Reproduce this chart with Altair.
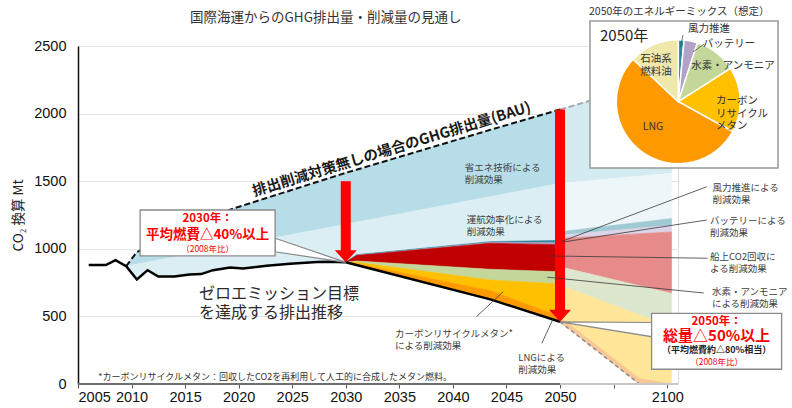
import altair as alt
import pandas as pd

FONT_JP = "Noto Sans CJK JP"
FONT_NUM = "Liberation Sans"

# ---------------- emissions (Mt CO2e) ----------------
# historical emissions and the zero-emission pathway
path_years = [2006, 2007.6, 2008.5, 2009.5, 2010.5, 2011.5, 2012.5, 2014, 2015.4, 2016.5,
              2017.6, 2019.2, 2020.4, 2022.6, 2024.8, 2027.3, 2028.5, 2030, 2031, 2043.5, 2050]
path_vals = [880, 880, 916, 872, 773, 842, 795, 795, 810, 813,
             842, 862, 855, 874, 890, 903, 905, 900, 880, 626, 460]

# business-as-usual line and the split between the two light-blue wedges
bau_years = path_years[3:]
bau_vals = [872, 976, 1013, 1049, 1103, 1154, 1194, 1234, 1290, 1320,
            1376, 1431, 1494, 1524, 1562, 1585, 1880, 2030]
eff_top_vals = [872, 887, 902, 917, 940, 961, 978, 994, 1018, 1037,
                1070, 1103, 1141, 1159, 1182, 1197, 1386, 1484]

# 2030-2050 reduction wedges (upper edge of each band)
wedge_years = [2030, 2031, 2043.5, 2050]
wind_top = [900, 956, 1053, 1062]
battery_top = [900, 953, 1047, 1045]
ccs_top = [900, 950, 1041, 1030]
h2_top = [900, 910, 848, 830]
crm_top = [900, 900, 769, 740]
lng_top = [900, 890, 690, 500]

# outlook beyond 2050
fade_years = [2050, 2102]
fade_bau = [2030, 2270]
fade_eff_top = [1484, 1559]
fade_wind_top = [1126, 1224]
fade_battery_top = [1100, 1174]
fade_ccs_top = [1077, 1125]
fade_h2_top = [867, 670]
fade3_years = [2050, 2087, 2102]
fade3_crm_top = [732, 510, 420]
fade3_lng_top = [495, 40, 0]
fade3_path = [460, 0, 0]

# targets marked with arrows
arrow_years = [2030, 2050]
arrow_from = [1500, 2030]
arrow_to = [900, 460]

# 2050 energy mix (%)
pie_labels = ["風力推進", "バッテリー", "水素・アンモニア", "カーボンリサイクルメタン", "LNG", "石油系燃料油"]
pie_shares = [1.5, 3.5, 11, 17, 54, 13]

# ---------------- styling ----------------
band_ids = ["省エネ技術", "運航効率化", "風力推進", "バッテリー", "船上CO2回収",
            "水素・アンモニア", "カーボンリサイクルメタン", "LNG"]
band_fill = ["#B7DEE8", "#DAEEF3", "#31859C", "#B3A2C7", "#C00000", "#C4D79B", "#FFC000", "#FF9900"]
fade_fill = ["#D4EBF2", "#EDF6F9", "#9FC9D3", "#DCD4E8", "#E68A8A", "#DDE7CD", "#FFE699", "#F9C796"]
pie_colors = ["#31859C", "#B3A2C7", "#C4D79B", "#FFC000", "#FF9900", "#EEE8AA"]

W, H = 600, 338
x_scale = alt.Scale(domain=[2005, 2050, 2105], range=[0, 482, W], nice=False, zero=False)
y_scale = alt.Scale(domain=[0, 2500], nice=False, zero=False)

x_axis = alt.Axis(values=[2005, 2010, 2015, 2020, 2025, 2030, 2035, 2040, 2045, 2050, 2075, 2100],
                  labelExpr="datum.value == 2075 ? '' : datum.label", format="d",
                  domain=False, grid=False, ticks=True, tickSize=4, tickColor="#555",
                  labelFont=FONT_NUM, labelFontSize=14.5, labelColor="#111", labelPadding=2,
                  title=None)
y_axis = alt.Axis(values=[0, 500, 1000, 1500, 2000, 2500], format="d", grid=True,
                  gridColor="#E4E4E4", domain=True, domainColor="#111", domainWidth=1.5,
                  ticks=False, labelFont=FONT_NUM, labelFontSize=14.5, labelColor="#111",
                  labelPadding=12, title="CO₂ 換算 Mt", titleFont=FONT_JP, titleFontSize=13.5,
                  titleFontWeight="normal", titleColor="#222", titlePadding=8)


def X(field="year"):
    return alt.X(f"{field}:Q", scale=x_scale, axis=x_axis)


def Y(field="value"):
    return alt.Y(f"{field}:Q", scale=y_scale, axis=y_axis)


# ---------------- band table ----------------
rows = []


def add_band(name, years, lo, hi):
    for yr, a, b in zip(years, lo, hi):
        rows.append({"band": name, "year": yr, "lo": a, "hi": b})


path_at = dict(zip(path_years, path_vals))
eff_low = [path_at[y] if y <= 2030 else wind_top[wedge_years.index(y)] for y in bau_years]
add_band("省エネ技術", bau_years, eff_top_vals, bau_vals)
add_band("運航効率化", bau_years, eff_low, eff_top_vals)
add_band("風力推進", wedge_years, battery_top, wind_top)
add_band("バッテリー", wedge_years, ccs_top, battery_top)
add_band("船上CO2回収", wedge_years, h2_top, ccs_top)
add_band("水素・アンモニア", wedge_years, crm_top, h2_top)
add_band("カーボンリサイクルメタン", wedge_years, lng_top, crm_top)
add_band("LNG", wedge_years, [path_at[y] for y in wedge_years], lng_top)

fade_ids = [b + "（2050年以降）" for b in band_ids]
add_band(fade_ids[0], fade_years, fade_eff_top, fade_bau)
add_band(fade_ids[1], fade_years, fade_wind_top, fade_eff_top)
add_band(fade_ids[2], fade_years, fade_battery_top, fade_wind_top)
add_band(fade_ids[3], fade_years, fade_ccs_top, fade_battery_top)
add_band(fade_ids[4], fade_years, fade_h2_top, fade_ccs_top)
add_band(fade_ids[5], fade_years, [fade3_crm_top[0], fade3_crm_top[-1]], fade_h2_top)
add_band(fade_ids[6], fade3_years, fade3_lng_top, fade3_crm_top)
add_band(fade_ids[7], fade3_years, fade3_path, fade3_lng_top)
bands_df = pd.DataFrame(rows)

all_ids = band_ids + fade_ids
all_fill = band_fill + fade_fill

bands = alt.Chart(bands_df).mark_area(strokeWidth=0.6).encode(
    x=X(),
    y=Y("hi"),
    y2="lo:Q",
    color=alt.Color("band:N", scale=alt.Scale(domain=all_ids, range=all_fill), legend=None),
    stroke=alt.Stroke("band:N", scale=alt.Scale(domain=all_ids, range=all_fill), legend=None),
)

# ---------------- lines ----------------
pathway = alt.Chart(pd.DataFrame({"year": path_years, "value": path_vals})).mark_line(
    color="#000", strokeWidth=2.5).encode(x=X(), y=Y())
pathway_after = alt.Chart(pd.DataFrame({"year": fade3_years[:2], "value": fade3_path[:2]})).mark_line(
    color="#8C8C8C", strokeWidth=1.5, strokeDash=[4, 3]).encode(x=X(), y=Y())
bau_line = alt.Chart(pd.DataFrame({"year": bau_years, "value": bau_vals})).mark_line(
    color="#111", strokeWidth=2, strokeDash=[6, 3]).encode(x=X(), y=Y())
bau_after = alt.Chart(pd.DataFrame({"year": fade_years, "value": fade_bau})).mark_line(
    color="#A8A8A8", strokeWidth=2, strokeDash=[6, 3]).encode(x=X(), y=Y())

axis_dark = alt.Chart(pd.DataFrame({"year": [2005], "year2": [2050], "value": [0]})).mark_rule(
    color="#6E6E6E", strokeWidth=2).encode(x=X(), x2="year2:Q", y=Y())
axis_light = alt.Chart(pd.DataFrame({"year": [2050], "year2": [2105], "value": [0]})).mark_rule(
    color="#C8C8C8", strokeWidth=2).encode(x=X(), x2="year2:Q", y=Y())

# ---------------- callout boxes ----------------
callouts = pd.DataFrame({
    "box": ["2030", "2030", "2050", "2050"],
    "year": [2023.4, 2030, 2050, 2092.7],
    "lo": [978, 900, 460, 350],
    "hi": [1078, 900, 460, 455],
})
wedges = alt.Chart(callouts).mark_area(fill="white", stroke="#8A8A8A", strokeWidth=1.2).encode(
    x=X(), y=Y("hi"), y2="lo:Q", detail="box:N")
boxes_df = pd.DataFrame({"year": [2010.8, 2092.7], "year2": [2023.4, 2153.3],
                         "value": [1287, 523], "value2": [947, 109]})
boxes = alt.Chart(boxes_df).mark_rect(fill="white", stroke="#8A8A8A", strokeWidth=1.3).encode(
    x=X(), x2="year2:Q", y=Y(), y2="value2:Q")

# ---------------- arrows ----------------
arrows_df = pd.DataFrame({"year": arrow_years, "value": arrow_from, "tip": arrow_to})
arrow_shaft = alt.Chart(arrows_df).mark_rule(color="#FF0000", strokeWidth=10, y2Offset=-11,
                                             strokeCap="butt").encode(x=X(), y=Y(), y2="tip:Q")
arrow_head = alt.Chart(arrows_df).mark_point(shape="M-1,-1.1L1,-1.1L0,0Z", size=484, filled=True,
                                             color="#FF0000", opacity=1, strokeWidth=0).encode(
    x=X(), y=Y("tip"))


# ---------------- text ----------------
def text_layer(texts, years, values, **kw):
    df = pd.DataFrame({"label": texts, "year": years, "value": values})
    return alt.Chart(df).mark_text(lineBreak="\n", **kw).encode(x=X(), y=Y(), text="label:N")


effect_labels = text_layer(
    ["省エネ技術による\n削減効果", "運航効率化による\n削減効果", "風力推進による\n削減効果",
     "バッテリーによる\n削減効果", "船上CO2回収に\nよる削減効果", "水素・アンモニア\nによる削減効果",
     "カーボンリサイクルメタン*\nによる削減効果", "LNGによる\n削減効果"],
    [2041.1, 2041.3, 2121.1, 2119.9, 2119.9, 2120.8, 2034.6, 2046.1],
    [1594, 1213, 1453, 1206, 939, 677, 370, 196],
    align="left", baseline="middle", font=FONT_JP, fontSize=9.5, lineHeight=12, color="#404040")

leaders_df = pd.DataFrame({
    "year": [2050.8, 2051.4, 2049.1, 2048.8, 2044.7, 2049.4],
    "value": [1055, 1050, 947, 790, 683, 490],
    "year2": [2118.4, 2118.4, 2118.7, 2117.0, 2042.2, 2048.3],
    "value2": [1459, 1213, 930, 673, 498, 301],
})
leaders = alt.Chart(leaders_df).mark_rule(color="#3A3A3A", strokeWidth=0.8).encode(
    x=X(), y=Y(), x2="year2:Q", y2="value2:Q")

bau_label = text_layer(["排出削減対策無しの場合のGHG排出量(BAU)"], [2034.3], [1731],
                       align="center", baseline="middle", angle=343, font=FONT_JP,
                       fontSize=14.5, fontWeight="bold", color="#1A1A1A")
zero_label = text_layer(["ゼロエミッション目標\nを達成する排出推移"], [2016.3], [669],
                        align="left", baseline="middle", font=FONT_JP, fontSize=16,
                        lineHeight=19, color="#2B2B2B")
footnote = text_layer(["*カーボンリサイクルメタン：回収したCO2を再利用して人工的に合成したメタン燃料。"],
                      [2006.9], [52], align="left", baseline="middle", font=FONT_JP,
                      fontSize=9, color="#333")

box_heads = text_layer(["2030年：", "2050年："], [2017.1, 2123.0], [1220, 458],
                       align="center", baseline="middle", font=FONT_JP, fontSize=11.5,
                       fontWeight="bold", color="#FF0000")
box_main_2030 = text_layer(["平均燃費△40%以上"], [2017.1], [1102], align="center",
                           baseline="middle", font=FONT_JP, fontSize=13.5, fontWeight="bold",
                           color="#FF0000")
box_main_2050 = text_layer(["総量△50%以上"], [2123.0], [352], align="center",
                           baseline="middle", font=FONT_JP, fontSize=15, fontWeight="bold",
                           color="#FF0000")
box_note = text_layer(["（平均燃費約△80%相当）"], [2123.0], [252], align="center",
                      baseline="middle", font=FONT_JP, fontSize=9, fontWeight="bold",
                      color="#222")
box_base = text_layer(["（2008年比）", "（2008年比）"], [2017.1, 2123.0], [1002, 160],
                      align="center", baseline="middle", font=FONT_JP, fontSize=8.5,
                      color="#FF0000")


# ---------------- title and 2050 mix inset (pixel layout) ----------------
def placed_text(text, px, py, **kw):
    return alt.Chart(pd.DataFrame({"label": [text]})).mark_text(lineBreak="\n", **kw).encode(
        x=alt.value(px), y=alt.value(py), text="label:N")


def placed_rule(x1, y1, x2, y2, **kw):
    return alt.Chart(pd.DataFrame({"k": [0]})).mark_rule(**kw).encode(
        x=alt.value(x1), y=alt.value(y1), x2=alt.value(x2), y2=alt.value(y2))


title = placed_text("国際海運からのGHG排出量・削減量の見通し", 112, -28.5, align="left",
                    baseline="middle", font=FONT_JP, fontSize=13.5, color="#333")

inset_box = alt.Chart(pd.DataFrame({"k": [0]})).mark_rect(
    fill="white", stroke="#999", strokeWidth=1.5).encode(
    x=alt.value(512), x2=alt.value(700), y=alt.value(-25), y2=alt.value(122))
inset_title = placed_text("2050年のエネルギーミックス（想定）", 511, -34, align="left",
                          baseline="middle", font=FONT_JP, fontSize=10.5, color="#333")
inset_year = placed_text("2050年", 522, -10, align="left", baseline="middle",
                         font=FONT_JP, fontSize=15, color="#222")

pie_df = pd.DataFrame({"source": pie_labels, "share": pie_shares, "rank": list(range(len(pie_labels)))})
pie = alt.Chart(pie_df).mark_arc(radius=62, stroke="white", strokeWidth=1.5).encode(
    theta=alt.Theta("share:Q", stack=True),
    order=alt.Order("rank:Q"),
    color=alt.Color("source:N", scale=alt.Scale(domain=pie_labels, range=pie_colors), legend=None),
    x=alt.value(600.3), y=alt.value(55.7),
)
pie_kw = dict(baseline="middle", font=FONT_JP, fontSize=10.5, color="#333", lineHeight=12.5)
pie_text = [
    placed_text("LNG", 575, 81, align="center", **pie_kw),
    placed_text("石油系\n燃料油", 578, 13, align="center", **pie_kw),
    placed_text("風力推進", 631, -17, align="center", **pie_kw),
    placed_text("バッテリー", 651, -2, align="center", **pie_kw),
    placed_text("水素・アンモニア", 655, 20, align="center", **pie_kw),
    placed_text("カーボン\nリサイクル\nメタン", 638, 55, align="left", **pie_kw),
]
pie_leaders = [
    placed_rule(605, -11, 602.5, 1, color="#555", strokeWidth=0.8),
    placed_rule(626, -2, 615, 6, color="#555", strokeWidth=0.8),
]

chart = alt.layer(
    bands, pathway_after, bau_after, bau_line, pathway,
    axis_dark, axis_light,
    wedges, boxes, box_heads, box_main_2030, box_main_2050, box_note, box_base,
    arrow_shaft, arrow_head, leaders, effect_labels,
    bau_label, zero_label, footnote, title,
    inset_box, inset_title, inset_year, pie, *pie_text, *pie_leaders,
).resolve_scale(
    color="independent", stroke="independent"
).properties(
    width=W, height=H,
    padding={"left": 78, "top": 46, "right": 114, "bottom": 24},
    autosize=alt.AutoSizeParams(type="none"),
).configure_view(stroke=None).configure(background="white")

chart.save("out.html", embed_options={"renderer": "svg", "actions": False})
